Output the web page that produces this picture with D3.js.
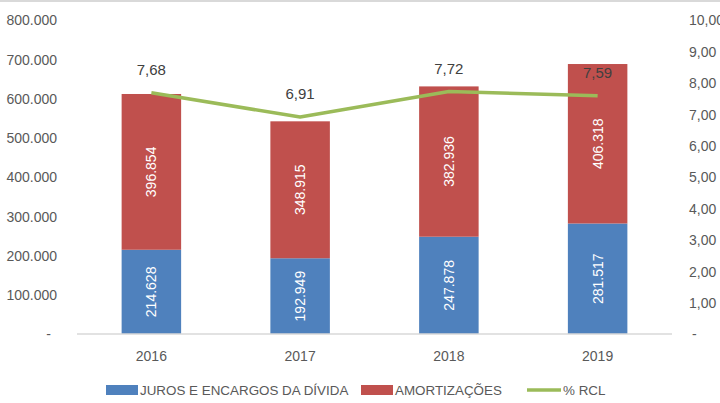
<!DOCTYPE html>
<html><head><meta charset="utf-8">
<script src="https://cdn.jsdelivr.net/npm/d3@7"></script>
<style>body{margin:0;background:#fff}svg{display:block}text{font-family:"Liberation Sans",Arial,sans-serif}</style>
</head><body>
<svg id="c" width="720" height="403"></svg>
<script>
const years = ["2016","2017","2018","2019"];
const juros = [214628,192949,247878,281517];
const amort = [396854,348915,382936,406318];
const rcl = [7.68,6.91,7.72,7.59];
const leftTicks = [0,100000,200000,300000,400000,500000,600000,700000,800000];
const rightTicks = [0,1,2,3,4,5,6,7,8,9,10];
const seriesNames = ["JUROS E ENCARGOS DA DÍVIDA","AMORTIZAÇÕES","% RCL"];
const colors = ["#4f81bd","#c0504d","#9bbb59"];

const svg = d3.select("#c");
const x0 = 77, x1 = 672, yTop = 20, yBase = 334;
const x = d3.scaleBand().domain(years).range([x0,x1]).paddingInner(0.6).paddingOuter(0.3);
const yL = d3.scaleLinear().domain([0,800000]).range([yBase,yTop]);
const yR = d3.scaleLinear().domain([0,10]).range([yBase,yTop]);
const fmtK = d => d===0 ? "-" : d3.format(",")(d).replace(/,/g,".");
const fmtR = d => d===0 ? "-" : d.toFixed(2).replace(".",",");

// top border
svg.append("line").attr("x1",0).attr("x2",720).attr("y1",1).attr("y2",1).attr("stroke","#d9d9d9").attr("stroke-width",2);

// left axis
const gl = svg.append("g").attr("transform","translate(57,0)")
  .call(d3.axisLeft(yL).tickValues(leftTicks).tickSize(0).tickPadding(0).tickFormat(fmtK));
gl.select(".domain").remove();
gl.selectAll("text").attr("fill","#595959").style("font-size","14px").attr("dy","0.35em")
  .attr("dx", d => d===0 ? -6 : 0);

// right axis
const gr = svg.append("g").attr("transform","translate(689,0)")
  .call(d3.axisRight(yR).tickValues(rightTicks).tickSize(0).tickPadding(0).tickFormat(fmtR));
gr.select(".domain").remove();
gr.selectAll("text").attr("fill","#595959").style("font-size","14px").attr("dy","0.35em")
  .attr("dx", d => d===0 ? 3 : 0);

// x axis labels
const gx = svg.append("g").attr("transform",`translate(0,${yBase})`)
  .call(d3.axisBottom(x).tickSize(0).tickPadding(17));
gx.select(".domain").remove();
gx.selectAll("text").attr("fill","#595959").style("font-size","14px");

// bars
const stack = years.map((yr,i)=>({yr, j:juros[i], a:amort[i]}));
const bars = svg.append("g");
bars.selectAll("rect.j").data(stack).join("rect")
  .attr("x",d=>x(d.yr)).attr("width",x.bandwidth())
  .attr("y",d=>yL(d.j)).attr("height",d=>yBase-yL(d.j)).attr("fill",colors[0]);
bars.selectAll("rect.a").data(stack).join("rect")
  .attr("x",d=>x(d.yr)).attr("width",x.bandwidth())
  .attr("y",d=>yL(d.j+d.a)).attr("height",d=>yL(d.j)-yL(d.j+d.a)).attr("fill",colors[1]);

// baseline
svg.append("line").attr("x1",x0).attr("x2",x1).attr("y1",yBase).attr("y2",yBase)
  .attr("stroke","#d9d9d9").attr("stroke-width",1.5);

// bar labels
const lab = (v, base, top, cx) => {
  const cy = (yL(base)+yL(top))/2;
  svg.append("text").attr("transform",`translate(${cx},${cy}) rotate(-90)`)
    .attr("text-anchor","middle").attr("dy","0.35em").attr("fill","#fff")
    .style("font-size","14px").text(fmtK(v));
};
stack.forEach(d=>{
  const cx = x(d.yr)+x.bandwidth()/2;
  lab(d.j,0,d.j,cx);
  lab(d.a,d.j,d.j+d.a,cx);
});

// line
const line = d3.line().x((d,i)=>x(years[i])+x.bandwidth()/2).y(d=>yR(d));
svg.append("path").datum(rcl).attr("d",line).attr("fill","none")
  .attr("stroke",colors[2]).attr("stroke-width",3.5).attr("stroke-linejoin","round");
svg.selectAll("text.rl").data(rcl).join("text").attr("class","rl")
  .attr("x",(d,i)=>x(years[i])+x.bandwidth()/2).attr("y",d=>yR(d)-18)
  .attr("text-anchor","middle").attr("fill","#404040").style("font-size","15px")
  .text(d=>d.toFixed(2).replace(".",","));

// legend
const leg = svg.append("g");
const ly = 390;
const items = [{x:106,w:32,t:seriesNames[0],c:colors[0],type:"rect"},
               {x:361,w:32,t:seriesNames[1],c:colors[1],type:"rect"},
               {x:527,w:34,t:seriesNames[2],c:colors[2],type:"line"}];
items.forEach(it=>{
  if(it.type==="rect") leg.append("rect").attr("x",it.x).attr("y",ly-5).attr("width",it.w).attr("height",10).attr("fill",it.c);
  else leg.append("line").attr("x1",it.x).attr("x2",it.x+it.w).attr("y1",ly).attr("y2",ly).attr("stroke",it.c).attr("stroke-width",3.5);
  leg.append("text").attr("x",it.x+it.w+2).attr("y",ly).attr("dy","0.35em")
    .attr("fill","#595959").style("font-size","13.4px").text(it.t);
});
</script>
</body></html>
